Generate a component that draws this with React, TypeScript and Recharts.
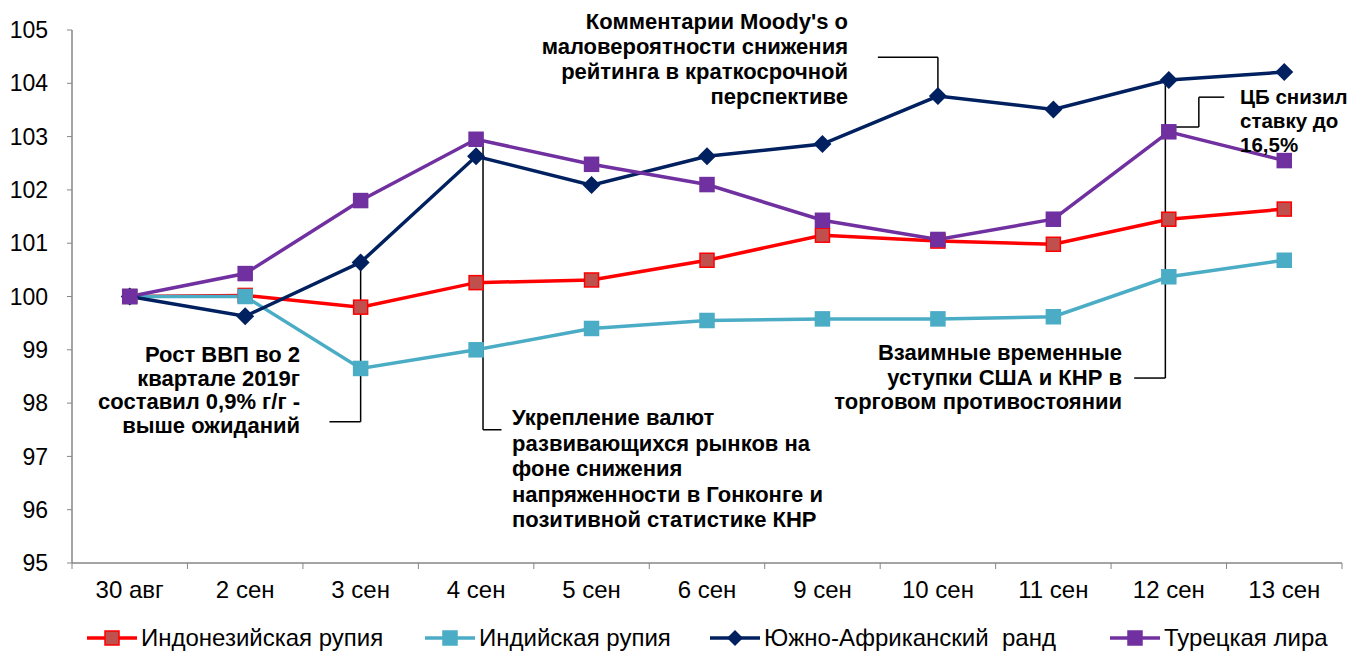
import React from "react"
import { LineChart, Line, XAxis, YAxis, ReferenceLine } from "recharts"

const categories = ["30 авг", "2 сен", "3 сен", "4 сен", "5 сен", "6 сен", "9 сен", "10 сен", "11 сен", "12 сен", "13 сен"]
const indonesia = [100, 100.02, 99.8, 100.26, 100.31, 100.68, 101.15, 101.04, 100.98, 101.45, 101.64]
const india = [100, 100, 98.65, 99.0, 99.4, 99.55, 99.58, 99.58, 99.62, 100.37, 100.68]
const southAfrica = [100, 99.63, 100.64, 102.63, 102.09, 102.63, 102.86, 103.76, 103.51, 104.06, 104.21]
const turkey = [100, 100.43, 101.8, 102.95, 102.48, 102.1, 101.43, 101.07, 101.45, 103.09, 102.55]
const yTicks = [95, 96, 97, 98, 99, 100, 101, 102, 103, 104, 105]

const data = categories.map((label, i) => ({
  i,
  label,
  idr: indonesia[i],
  inr: india[i],
  zar: southAfrica[i],
  try: turkey[i],
}))

const FONT = "'Liberation Sans', Arial, sans-serif"
const AXIS = "#868686"

const square = (fill: string, stroke: string) => (props: any) => {
  const { cx, cy, index } = props
  if (cx == null || cy == null) return <g key={index} />
  return <rect key={index} x={cx - 7} y={cy - 7} width={14} height={14} fill={fill} stroke={stroke} strokeWidth={1.5} />
}

const diamond = (fill: string) => (props: any) => {
  const { cx, cy, index } = props
  if (cx == null || cy == null) return <g key={index} />
  const r = 9
  return <polygon key={index} points={`${cx},${cy - r} ${cx + r},${cy} ${cx},${cy + r} ${cx - r},${cy}`} fill={fill} />
}

const series = [
  { key: "idr", name: "Индонезийская рупия", color: "#FF0000", marker: "#C0504D", shape: "square" },
  { key: "inr", name: "Индийская рупия", color: "#4BACC6", marker: "#4BACC6", shape: "square" },
  { key: "zar", name: "Южно-Африканский  ранд", color: "#002060", marker: "#002060", shape: "diamond" },
  { key: "try", name: "Турецкая лира", color: "#7030A0", marker: "#7030A0", shape: "square" },
]

// connector lines for the callouts, in data coordinates
const connectors: [number, number, number, number][] = [
  [1.73, 97.65, 2, 97.65],
  [2, 97.65, 2, 100.64],
  [3.06, 102.9, 3.06, 97.5],
  [3.06, 97.5, 3.22, 97.5],
  [6.48, 104.49, 7, 104.49],
  [7, 104.49, 7, 103.76],
  [8.7, 98.47, 8.97, 98.47],
  [8.97, 98.47, 8.97, 104.06],
  [9.03, 103.18, 9.26, 103.18],
  [9.26, 103.18, 9.26, 103.74],
  [9.26, 103.74, 9.48, 103.74],
]

const notes = [
  { lines: ["Рост ВВП во 2", "квартале 2019г", "составил 0,9% г/г -", "выше ожиданий"], right: 1357 - 300, top: 343, lh: 23.5, align: "right", size: 22 },
  { lines: ["Укрепление валют", "развивающихся рынков на", "фоне снижения", "напряженности в Гонконге и", "позитивной статистике КНР"], left: 512, top: 405, lh: 25.5, align: "left", size: 22 },
  { lines: ["Комментарии Moody's о", "маловероятности снижения", "рейтинга в краткосрочной", "перспективе"], right: 1357 - 848, top: 9, lh: 25, align: "right", size: 22 },
  { lines: ["Взаимные временные", "уступки США и КНР в", "торговом противостоянии"], right: 1357 - 1122, top: 341, lh: 24.5, align: "right", size: 22 },
  { lines: ["ЦБ снизил", "ставку до", "16,5%"], left: 1240, top: 85, lh: 24, align: "left", size: 20.5 },
]

const legendLeft = [87, 425, 710, 1110]

function LegendIcon({ s }: { s: (typeof series)[number] }) {
  return (
    <svg width={50} height={18} style={{ display: "block" }}>
      <line x1={0} y1={9} x2={50} y2={9} stroke={s.color} strokeWidth={3.5} />
      {s.shape === "diamond" ? (
        <polygon points="25,1 33,9 25,17 17,9" fill={s.marker} />
      ) : (
        <rect x={18} y={2} width={14} height={14} fill={s.marker} stroke={s.color} strokeWidth={1.5} />
      )}
    </svg>
  )
}

export default function App() {
  return (
    <div style={{ position: "relative", width: 1357, height: 655, margin: "-8px 0 0 -8px", background: "#fff", fontFamily: FONT, overflow: "hidden" }}>
      <LineChart width={1357} height={655} data={data} margin={{ top: 30, right: 15, bottom: 44, left: 12 }}>
        <XAxis
          xAxisId="a"
          dataKey="i"
          type="number"
          domain={[-0.5, 10.5]}
          ticks={[-0.5, 0.5, 1.5, 2.5, 3.5, 4.5, 5.5, 6.5, 7.5, 8.5, 9.5, 10.5]}
          tick={() => <g />}
          tickSize={6}
          height={8}
          axisLine={{ stroke: AXIS, strokeWidth: 1.5 }}
          tickLine={{ stroke: AXIS }}
        />
        <XAxis
          xAxisId="b"
          dataKey="i"
          type="number"
          domain={[-0.5, 10.5]}
          ticks={categories.map((_, i) => i)}
          tickFormatter={(v: number) => categories[v] ?? ""}
          axisLine={false}
          tickLine={false}
          tickMargin={4}
          height={40}
          tick={{ fill: "#000", fontSize: 24, fontFamily: FONT }}
        />
        <YAxis
          domain={[95, 105]}
          ticks={yTicks}
          width={60}
          tickSize={5}
          tickMargin={19}
          axisLine={{ stroke: AXIS, strokeWidth: 1.5 }}
          tickLine={{ stroke: AXIS }}
          tick={{ fill: "#000", fontSize: 23, fontFamily: FONT }}
        />
        {connectors.map((c, k) => (
          <ReferenceLine
            key={k}
            xAxisId="b"
            segment={[{ x: c[0], y: c[1] }, { x: c[2], y: c[3] }]}
            stroke="#000"
            strokeWidth={1.5}
          />
        ))}
        {series.map((s) => (
          <Line
            key={s.key}
            xAxisId="b"
            dataKey={s.key}
            name={s.name}
            stroke={s.color}
            strokeWidth={3.5}
            dot={s.shape === "diamond" ? diamond(s.marker) : square(s.marker, s.color)}
            activeDot={false}
            isAnimationActive={false}
          />
        ))}
      </LineChart>
      {notes.map((n, k) => (
        <div
          key={k}
          style={{
            position: "absolute",
            top: n.top,
            left: n.left,
            right: n.right,
            textAlign: n.align as any,
            fontSize: n.size,
            fontWeight: "bold",
            lineHeight: `${n.lh}px`,
            color: "#000",
            whiteSpace: "nowrap",
          }}
        >
          {n.lines.map((l, j) => (
            <div key={j}>{l}</div>
          ))}
        </div>
      ))}
      {series.map((s, k) => (
        <div
          key={s.key}
          style={{ position: "absolute", left: legendLeft[k], top: 624, display: "flex", alignItems: "center", fontSize: 24, lineHeight: "28px", color: "#000", whiteSpace: "pre" }}
        >
          <LegendIcon s={s} />
          <span style={{ marginLeft: 4 }}>{s.name}</span>
        </div>
      ))}
    </div>
  )
}
